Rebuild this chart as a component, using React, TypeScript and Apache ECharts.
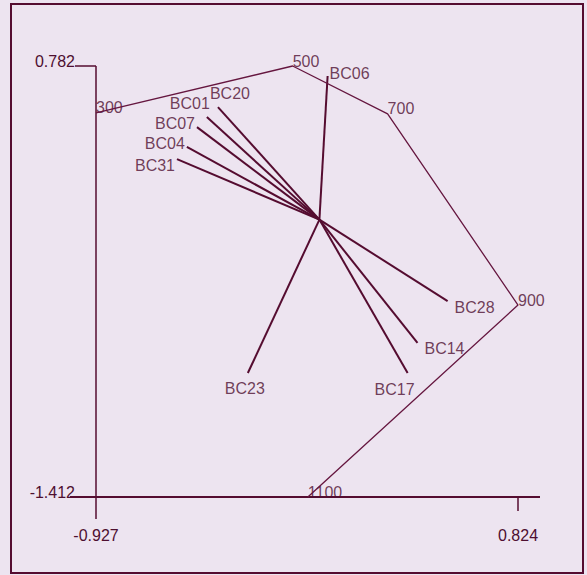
import React, { useEffect, useRef } from "react";
import * as echarts from "echarts";

// Axis extents (tick labels)
const X_MIN = -0.927;
const X_MAX = 0.824;
const Y_MIN = -1.412;
const Y_MAX = 0.782;

// Biplot variable vectors (from origin)
const varNames = ["BC06", "BC20", "BC01", "BC07", "BC04", "BC31", "BC28", "BC14", "BC17", "BC23"];
const varX = [0.034, -0.421, -0.467, -0.508, -0.55, -0.591, 0.532, 0.407, 0.366, -0.297];
const varY = [0.731, 0.573, 0.522, 0.471, 0.37, 0.308, -0.415, -0.628, -0.781, -0.781];

// Trajectory (polyline) points
const pathLabels = ["300", "500", "700", "900", "1100"];
const pathX = [-0.927, -0.111, 0.283, 0.824, -0.048];
const pathY = [0.543, 0.782, 0.538, -0.435, -1.412];

// Label placement (pixel offsets of label centre from vector end)
const labelOffsets: Record<string, [number, number]> = {
  BC06: [22, -3],
  BC20: [12, -14],
  BC01: [-17, -14],
  BC07: [-22, -4],
  BC04: [-22, -3],
  BC31: [-22, 6],
  BC28: [27, 6],
  BC14: [27, 6],
  BC17: [-13, 16],
  BC23: [-3, 15],
};

const W = 587;
const H = 575;
const GRID = { left: 96, top: 66, right: 69, bottom: 78 };
const BG = "#ede4f0";
const LINE = "#550c30";
const TEXT = "#4e0f30";
const FONT = "'Liberation Sans', Arial, sans-serif";

export default function App() {
  const ref = useRef<HTMLDivElement>(null);
  useEffect(() => {
    if (!ref.current) return;
    const chart = echarts.init(ref.current, undefined, { renderer: "svg" });
    const gw = W - GRID.left - GRID.right;
    const gh = H - GRID.top - GRID.bottom;
    const dxPerPx = (X_MAX - X_MIN) / gw;
    const dyPerPx = (Y_MAX - Y_MIN) / gh;

    const axisLines = [
      {
        coords: [
          [X_MIN - 26 * dxPerPx, Y_MIN],
          [X_MAX + 22 * dxPerPx, Y_MIN],
        ],
        lineStyle: { width: 2 },
      },
      {
        coords: [
          [X_MIN, Y_MAX],
          [X_MIN, Y_MIN - 22 * dyPerPx],
        ],
        lineStyle: { width: 1.5 },
      },
    ];

    const rays = varNames.map((n, i) => ({
      coords: [
        [0, 0],
        [varX[i], varY[i]],
      ],
    }));

    const varLabelData = varNames.map((n, i) => ({
      value: [varX[i], varY[i]],
      name: n,
      label: { offset: labelOffsets[n] },
    }));

    const pathData = pathLabels.map((l, i) => [pathX[i], pathY[i]]);
    const pathLabelData = pathLabels.map((l, i) => ({ value: [pathX[i], pathY[i]], name: l }));

    chart.setOption({
      animation: false,
      backgroundColor: BG,
      textStyle: { fontFamily: FONT },
      grid: { ...GRID },
      xAxis: {
        type: "value",
        min: X_MIN,
        max: X_MAX,
        axisLine: { show: false, onZero: false },
        splitLine: { show: false },
        axisTick: {
          show: true,
          customValues: [X_MAX],
          length: 14,
          lineStyle: { color: LINE, width: 1.5 },
        },
        axisLabel: {
          customValues: [X_MIN, X_MAX],
          margin: 30,
          color: TEXT,
          fontSize: 16,
          fontFamily: FONT,
          formatter: (v: number) => v.toFixed(3),
        },
      },
      yAxis: {
        type: "value",
        min: Y_MIN,
        max: Y_MAX,
        axisLine: { show: false, onZero: false },
        splitLine: { show: false },
        axisTick: {
          show: true,
          customValues: [Y_MAX],
          length: 21,
          lineStyle: { color: LINE, width: 1.5 },
        },
        axisLabel: {
          customValues: [Y_MIN, Y_MAX],
          margin: 21,
          color: TEXT,
          fontSize: 16,
          fontFamily: FONT,
          verticalAlign: "bottom",
          padding: [0, 0, -3, 0],
          formatter: (v: number) => v.toFixed(3),
        },
      },
      graphic: [
        {
          type: "rect",
          shape: { x: 11, y: 4, width: 572, height: 569 },
          style: { fill: "none", stroke: LINE, lineWidth: 2 },
          silent: true,
        },
      ],
      series: [
        {
          type: "lines",
          coordinateSystem: "cartesian2d",
          data: axisLines,
          clip: false,
          lineStyle: { color: LINE, width: 2, opacity: 1 },
          silent: true,
        },
        {
          type: "line",
          data: pathData,
          symbol: "none",
          clip: false,
          lineStyle: { color: "#65163f", width: 1.3 },
          silent: true,
        },
        {
          type: "lines",
          coordinateSystem: "cartesian2d",
          data: rays,
          lineStyle: { color: LINE, width: 2, opacity: 1 },
          silent: true,
        },
        {
          type: "scatter",
          data: varLabelData,
          symbolSize: 1,
          itemStyle: { color: "rgba(0,0,0,0)" },
          clip: false,
          label: {
            show: true,
            position: "inside",
            formatter: (p: any) => p.name,
            color: TEXT,
            fontSize: 16,
            fontFamily: FONT,
          },
          silent: true,
        },
        {
          type: "scatter",
          data: pathLabelData,
          symbolSize: 1,
          itemStyle: { color: "rgba(0,0,0,0)" },
          clip: false,
          label: {
            show: true,
            position: "inside",
            align: "left",
            verticalAlign: "bottom",
            offset: [0, 3],
            formatter: (p: any) => p.name,
            color: TEXT,
            fontSize: 16,
            fontFamily: FONT,
          },
          silent: true,
        },
      ],
    });
    return () => chart.dispose();
  }, []);
  return (
    <div
      ref={ref}
      style={{ position: "fixed", left: 0, top: 0, width: W, height: H, background: BG }}
    />
  );
}
